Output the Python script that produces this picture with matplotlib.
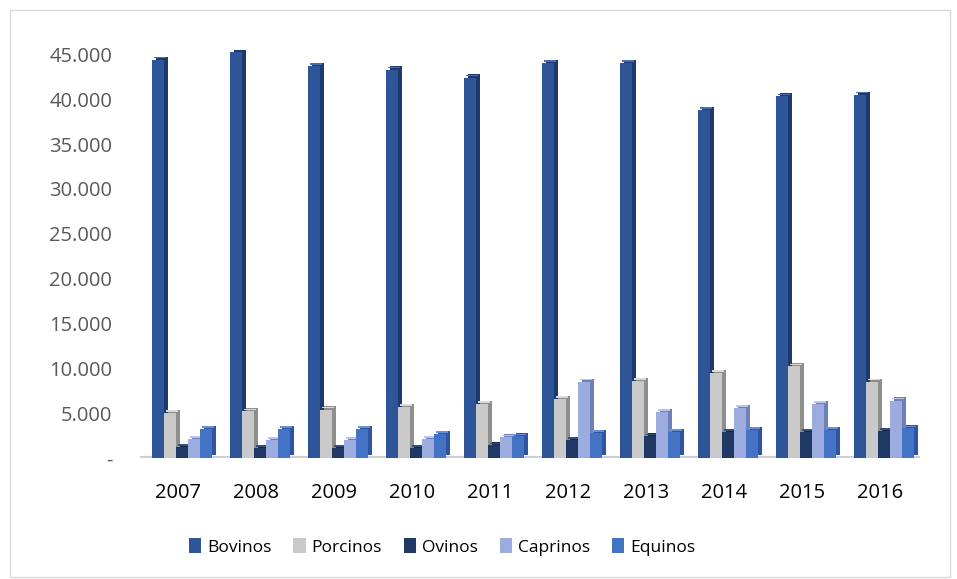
import matplotlib
matplotlib.use("Agg")
import matplotlib.pyplot as plt
import numpy as np
from matplotlib.ticker import FuncFormatter
from matplotlib.patches import Rectangle

years = ["2007", "2008", "2009", "2010", "2011", "2012", "2013", "2014", "2015", "2016"]
bovinos = [44400, 45300, 43700, 43300, 42400, 44000, 44000, 38800, 40300, 40500]
porcinos = [5000, 5200, 5400, 5700, 6000, 6600, 8600, 9500, 10200, 8500]
ovinos = [1200, 1100, 1100, 1100, 1400, 2000, 2400, 2900, 2900, 3000]
caprinos = [2100, 2000, 2000, 2100, 2300, 8500, 5100, 5600, 6000, 6400]
equinos = [3200, 3200, 3200, 2700, 2400, 2800, 2900, 3100, 3100, 3300]

series = [("Bovinos", bovinos), ("Porcinos", porcinos), ("Ovinos", ovinos),
          ("Caprinos", caprinos), ("Equinos", equinos)]
front = ["#2E5597", "#C9C9C9", "#1F3864", "#9CACDF", "#4472C4"]
side = ["#1C3A6E", "#8E8E8E", "#14264A", "#6E80B8", "#2D55A0"]
top = ["#4A6FB0", "#DADADA", "#33507F", "#B8C5EC", "#6A8FD8"]

plt.rcParams['font.family'] = ['Open Sans', 'DejaVu Sans']

fig = plt.figure(figsize=(9.57, 5.79), dpi=100)
ax = fig.add_axes([140 / 957, 121 / 579, 780 / 957, 0.705])

x = np.arange(len(years))
w = 0.154
offsets = -0.256 + np.arange(5) * 0.154
dx = 0.05
dy = 350

for i, (name, vals) in enumerate(series):
    xs = x + offsets[i]
    ax.bar(xs + dx, vals, width=w, bottom=dy, color=side[i], zorder=2 + i * 0.1)
    ax.bar(xs + dx * 0.5, [dy * 0.5] * len(vals), width=w, bottom=np.array(vals) + dy * 0.4,
           color=top[i], zorder=2 + i * 0.1 + 0.01)
    ax.bar(xs, vals, width=w, color=front[i], label=name, zorder=2 + i * 0.1 + 0.02)

ax.set_ylim(0, 45500)
ax.set_xlim(-0.49, 9.51)
ax.set_yticks(np.arange(0, 45001, 5000))
ax.yaxis.set_major_formatter(FuncFormatter(
    lambda v, p: "-" if v == 0 else f"{int(v):,}".replace(",", ".")))
ax.set_xticks(x)
ax.set_xticklabels(years)
ax.tick_params(axis='both', length=0, labelsize=14.5, colors='#595959')
ax.tick_params(axis='y', pad=20)
ax.tick_params(axis='x', pad=18)
for lab in ax.get_xticklabels():
    lab.set_color('#000000')
for s in ax.spines.values():
    s.set_visible(False)
ax.axhline(0, color='#CFCFCF', lw=3, zorder=1)

leg = fig.legend(loc='center', bbox_to_anchor=(442 / 957, 1 - 547 / 579), ncol=5, frameon=False,
                 fontsize=12.5, handlelength=0.7, handleheight=0.9, handletextpad=0.35,
                 columnspacing=1.25)

fig.patches.append(Rectangle((10 / 957, 2 / 579), 940 / 957, 567 / 579, transform=fig.transFigure,
                             fill=False, edgecolor='#D9D9D9', lw=1))

fig.savefig("out.png", dpi=100)
